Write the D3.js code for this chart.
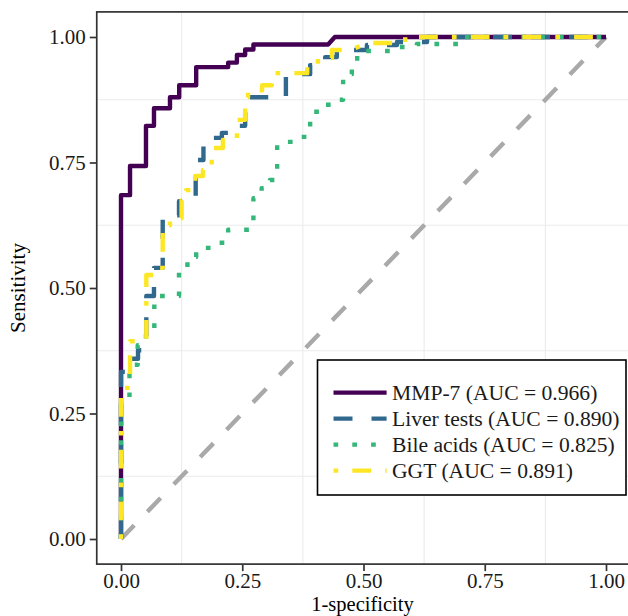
<!DOCTYPE html>
<html><head><meta charset="utf-8">
<script src="https://cdn.jsdelivr.net/npm/d3@7"></script>
<style>body{margin:0;background:#fff}svg{display:block}</style>
</head><body><svg id="c" width="628" height="616"></svg>
<script>
// ---------- data ----------
const seriesLabels = ["MMP-7 (AUC = 0.966)", "Liver tests (AUC = 0.890)", "Bile acids (AUC = 0.825)", "GGT (AUC = 0.891)"];

const mmp7Fpr = [0,0,0.0186,0.0186,0.0515,0.0515,0.068,0.068,0.101,0.101,0.120,0.120,0.155,0.155,0.221,0.221,0.239,0.239,0.256,0.256,0.273,0.273,0.427,0.441,1];
const mmp7Tpr = [0,0.685,0.685,0.743,0.743,0.823,0.823,0.858,0.858,0.880,0.880,0.904,0.904,0.940,0.940,0.949,0.949,0.964,0.964,0.975,0.975,0.985,0.985,1,1];

const liverFpr = [0,0,0.0144,0.0144,0.0351,0.0351,0.0522,0.0522,0.068,0.068,0.086,0.086,0.1196,0.1196,0.154,0.154,0.170,0.170,0.208,0.208,0.229,0.229,0.256,0.256,0.266,0.266,0.340,0.340,0.390,0.390,0.421,0.421,0.445,0.445,0.507,0.507,0.569,0.569,0.631,0.631,1];
const liverTpr = [0,0.333,0.333,0.359,0.359,0.376,0.376,0.484,0.484,0.540,0.540,0.645,0.645,0.673,0.673,0.755,0.755,0.799,0.799,0.809,0.809,0.823,0.823,0.867,0.867,0.880,0.880,0.926,0.926,0.944,0.944,0.960,0.960,0.974,0.974,0.984,0.984,0.990,0.990,1,1];

const bileFpr = [0,0,0.0175,0.0175,0.0344,0.0344,0.0515,0.0515,0.0687,0.0687,0.1196,0.1196,0.137,0.137,0.155,0.155,0.188,0.188,0.221,0.221,0.273,0.273,0.290,0.290,0.307,0.307,0.322,0.322,0.359,0.359,0.390,0.390,0.410,0.410,0.441,0.441,0.458,0.458,0.476,0.476,0.487,0.487,0.565,0.565,0.610,0.610,0.699,0.699,1];
const bileTpr = [0,0.277,0.277,0.347,0.347,0.386,0.386,0.418,0.418,0.484,0.484,0.540,0.540,0.562,0.562,0.580,0.580,0.590,0.590,0.616,0.616,0.679,0.679,0.699,0.699,0.715,0.715,0.791,0.791,0.801,0.801,0.851,0.851,0.865,0.865,0.875,0.875,0.926,0.926,0.946,0.946,0.972,0.972,0.980,0.980,0.986,0.986,1,1];

const ggtFpr = [0,0,0.0186,0.0186,0.0522,0.0522,0.068,0.068,0.086,0.086,0.101,0.101,0.125,0.125,0.134,0.134,0.153,0.153,0.169,0.169,0.187,0.187,0.210,0.210,0.239,0.239,0.256,0.256,0.262,0.262,0.291,0.291,0.311,0.311,0.384,0.384,0.406,0.406,0.435,0.435,0.472,0.509,0.586,0.586,1];
const ggtTpr = [0,0.301,0.301,0.394,0.394,0.526,0.526,0.540,0.540,0.625,0.625,0.639,0.639,0.675,0.675,0.695,0.695,0.723,0.723,0.735,0.735,0.779,0.779,0.795,0.795,0.835,0.835,0.880,0.880,0.894,0.894,0.904,0.904,0.928,0.928,0.944,0.944,0.958,0.958,0.974,0.974,0.988,0.988,1,1];

const refFpr = [0, 1];
const refTpr = [0, 1];

const xTicks = [0, 0.25, 0.5, 0.75, 1];
const yTicks = [0, 0.25, 0.5, 0.75, 1];
const gridBreaks = [0.125, 0.375, 0.625, 0.875];
const xTitle = "1-specificity";
const yTitle = "Sensitivity";

// ---------- styles ----------
const colors = ["#440154", "#31688E", "#35B779", "#FDE725"];
const dashes = [null, "19 19", "4.7 14.1", "4.7 14.1 18.8 14.1"];
const font = "'Liberation Serif', 'Times New Roman', serif";
const lw = 4.4;

// ---------- layout ----------
const svg = d3.select("#c");
svg.append("rect").attr("width", 628).attr("height", 616).attr("fill", "#fff");
const x = d3.scaleLinear().domain([-0.05, 1.05]).range([96.75, 630.25]);
const y = d3.scaleLinear().domain([-0.05, 1.05]).range([564.1, 11.9]);
const [x0, x1] = x.range(); const [y0, y1] = y.range();

const defs = svg.append("defs");
defs.append("clipPath").attr("id", "clip").append("rect")
  .attr("x", x0).attr("y", y1).attr("width", x1 - x0).attr("height", y0 - y1);

// grid
const grid = svg.append("g");
grid.selectAll(".gx").data(gridBreaks).join("line")
  .attr("x1", d => x(d)).attr("x2", d => x(d)).attr("y1", y1).attr("y2", y0)
  .attr("stroke", "#EBEBEB").attr("stroke-width", 1.1);
grid.selectAll(".gy").data(gridBreaks).join("line")
  .attr("y1", d => y(d)).attr("y2", d => y(d)).attr("x1", x0).attr("x2", x1)
  .attr("stroke", "#EBEBEB").attr("stroke-width", 1.1);

const plot = svg.append("g").attr("clip-path", "url(#clip)");
const line = d3.line().x(d => x(d[0])).y(d => y(d[1]));

// reference diagonal
plot.append("path").datum(d3.zip(refFpr, refTpr)).attr("d", line)
  .attr("fill", "none").attr("stroke", "#A9A9A9").attr("stroke-width", lw)
  .attr("stroke-dasharray", "19 19");

const series = [
  [mmp7Fpr, mmp7Tpr], [liverFpr, liverTpr], [bileFpr, bileTpr], [ggtFpr, ggtTpr]
];
series.forEach((s, i) => {
  const p = plot.append("path").datum(d3.zip(s[0], s[1])).attr("d", line)
    .attr("fill", "none").attr("stroke", colors[i]).attr("stroke-width", lw)
    .attr("stroke-linejoin", "round").attr("stroke-linecap", "butt");
  if (dashes[i]) p.attr("stroke-dasharray", dashes[i]);
});

// panel border
svg.append("rect").attr("x", x0).attr("y", y1).attr("width", x1 - x0).attr("height", y0 - y1)
  .attr("fill", "none").attr("stroke", "#333").attr("stroke-width", 1.7);

// axes
const fmt = d3.format(".2f");
const xa = svg.append("g").attr("transform", `translate(0,${y0})`)
  .call(d3.axisBottom(x).tickValues(xTicks).tickFormat(fmt).tickSize(7).tickPadding(2));
const ya = svg.append("g").attr("transform", `translate(${x0},0)`)
  .call(d3.axisLeft(y).tickValues(yTicks).tickFormat(fmt).tickSize(7).tickPadding(4));
[xa, ya].forEach(a => {
  a.select(".domain").remove();
  a.selectAll(".tick line").attr("stroke", "#333").attr("stroke-width", 1.7);
  a.selectAll(".tick text").attr("fill", "#1a1a1a").style("font-family", font).style("font-size", "21px");
});

svg.append("text").attr("x", (x0 + x1) / 2 - 1).attr("y", 611).attr("text-anchor", "middle")
  .style("font-family", font).style("font-size", "20.5px").attr("fill", "#000").text(xTitle);
svg.append("text").attr("transform", `translate(25,${(y0 + y1) / 2}) rotate(-90)`).attr("text-anchor", "middle")
  .style("font-family", font).style("font-size", "21px").attr("fill", "#000").text(yTitle);

// legend
const lg = svg.append("g");
lg.append("rect").attr("x", 317.5).attr("y", 360).attr("width", 308.5).attr("height", 135)
  .attr("fill", "#fff").attr("stroke", "#000").attr("stroke-width", 1.6);
seriesLabels.forEach((lab, i) => {
  const cy = 392.6 + i * 26;
  const l = lg.append("line").attr("x1", 333.5).attr("x2", 386.6).attr("y1", cy).attr("y2", cy)
    .attr("stroke", colors[i]).attr("stroke-width", lw);
  if (dashes[i]) l.attr("stroke-dasharray", dashes[i]);
  lg.append("text").attr("x", 392).attr("y", cy).attr("dy", "0.35em")
    .style("font-family", font).style("font-size", "21.6px").attr("fill", "#1a1a1a").text(lab);
});
</script></body></html>
